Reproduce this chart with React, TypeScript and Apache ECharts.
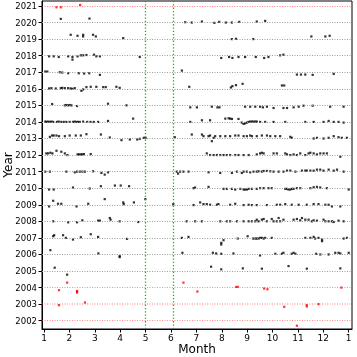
import React, { useEffect, useRef } from "react";
import * as echarts from "echarts";

const xTickValues = [1, 2, 3, 4, 5, 6, 7, 8, 9, 10, 11, 12, 13];
const xTickLabels = ["1", "2", "3", "4", "5", "6", "7", "8", "9", "10", "11", "12", "1"];
const years = [2002, 2003, 2004, 2005, 2006, 2007, 2008, 2009, 2010, 2011, 2012, 2013, 2014, 2015, 2016, 2017, 2018, 2019, 2020, 2021];
const redYears = [2002, 2003, 2004, 2021];
const greenMonths = [5.0, 6.1];

// [month, offset from year line]
const y2021 = [[1.49, -0.08], [1.66, -0.08], [2.42, 0.06]];
const y2020 = [[1.66, 0.22], [2.79, 0.24], [6.56, 0.02], [6.82, 0], [7.22, 0.06], [7.71, -0.02], [7.9, 0.04], [8.16, 0], [8.4, 0], [8.69, 0.04], [9.38, 0.06], [9.71, 0.1]];
const y2019 = [[2.05, 0.26], [2.32, 0.2], [2.54, 0.26], [2.54, 0.16], [2.93, 0.26], [3.04, 0.16], [4.12, 0.06], [8.4, 0], [8.56, 0.02], [9.24, 0], [11.53, 0.16], [12.08, 0.16], [12.25, 0.2]];
const y2018 = [[1.2, -0.04], [1.38, -0.04], [1.58, -0.08], [1.95, -0.04], [2.12, -0.08], [2.12, -0.24], [2.32, -0.04], [2.45, 0.02], [2.54, 0.02], [2.67, 0.04], [2.97, 0.06], [3.06, -0.04], [3.2, -0.04], [4.77, -0.08], [7.98, -0.14], [8.29, -0.08], [8.42, -0.14], [8.66, -0.08], [8.92, -0.08], [9.34, -0.08], [9.67, -0.14], [9.84, -0.08], [10.3, 0.02], [10.43, 0.06]];
const y2017 = [[1.05, 0.04], [1.13, 0.04], [1.62, 0], [1.72, -0.02], [1.95, -0.06], [2.37, -0.06], [2.58, -0.08], [2.78, -0.06], [3.2, -0.16], [6.43, 0.1], [10.96, -0.14], [11.12, -0.14], [11.29, -0.14], [11.58, -0.16], [12.41, -0.1]];
const y2016 = [[1.2, 0.02], [1.29, 0.04], [1.46, 0.02], [1.66, 0.04], [1.72, 0.06], [1.82, 0.04], [1.95, 0.04], [2.05, 0.02], [2.12, 0], [2.21, 0.04], [2.47, -0.12], [2.54, -0.04], [2.67, 0.1], [2.84, 0.12], [3.06, 0.12], [3.33, 0.1], [3.43, 0.1], [3.85, 0.12], [3.98, 0.06], [6.72, 0.12], [8.36, 0.08], [8.42, 0.16], [8.56, 0.22], [8.82, 0.3], [10.37, 0.2], [10.46, 0.2]];
const y2015 = [[1.32, 0.08], [1.82, 0], [1.88, 0.02], [1.95, 0], [2.01, 0.02], [2.08, 0], [2.3, -0.04], [3.52, 0.1], [4.25, 0], [6.76, -0.12], [7.02, -0.12], [7.61, -0.08], [7.83, -0.12], [7.91, -0.12], [8.92, -0.08], [9.12, -0.08], [9.32, -0.08], [9.51, -0.08], [9.62, -0.12], [9.78, -0.08], [10.04, -0.16], [10.43, -0.16], [10.57, -0.16], [10.83, -0.12], [11.03, -0.08], [11.22, -0.02], [11.58, -0.02], [12.27, -0.08], [12.8, -0.08]];
const y2014 = [[1.05, 0.02], [1.09, 0], [1.16, 0.02], [1.23, 0], [1.29, 0.02], [1.36, 0], [1.51, 0], [1.58, 0.02], [1.68, 0], [1.78, 0], [1.88, 0], [2.01, 0], [2.14, 0], [2.21, 0.02], [2.28, 0], [2.34, 0], [2.41, 0], [2.54, 0.02], [2.7, 0], [2.83, 0], [2.96, 0], [3.13, 0], [3.52, 0.06], [4.51, 0.2], [6.76, 0], [7.22, 0.1], [7.54, 0.1], [8.14, 0.2], [8.27, 0.22], [8.33, 0.2], [8.4, 0.18], [8.66, 0.18], [8.79, -0.04], [8.86, -0.12], [8.92, -0.08], [8.99, -0.04], [9.06, 0], [9.12, 0.02], [9.19, 0.02], [9.25, 0.02], [9.32, 0.02], [9.38, 0.02], [9.51, 0], [9.71, 0], [10.04, 0], [10.5, 0], [11.29, 0], [11.62, 0], [12.01, 0], [12.21, 0.06], [12.41, 0], [12.6, 0], [12.8, -0.04]];
const y2013 = [[1.23, 0.1], [1.32, 0.18], [1.38, 0.18], [1.49, 0.18], [1.59, 0.14], [1.82, 0.14], [2.01, 0.18], [2.25, 0.18], [2.45, 0.18], [2.67, 0.26], [3.24, 0.24], [3.59, 0.06], [4.05, -0.1], [4.38, -0.06], [4.67, -0.06], [4.77, -0.02], [4.93, 0.04], [5.0, 0.04], [6.15, 0.08], [6.82, 0.24], [7.22, 0.24], [7.28, 0.14], [7.48, 0.14], [7.54, 0.18], [7.61, -0.16], [7.68, 0.04], [7.74, 0.14], [7.94, 0.14], [8.14, 0.14], [8.33, 0.14], [8.53, 0.18], [8.66, 0.18], [8.86, 0.14], [8.99, 0.14], [9.12, 0.18], [9.19, 0.14], [9.38, 0.14], [9.58, 0.18], [9.78, 0.18], [9.91, 0.14], [10.11, 0.14], [10.3, 0.14], [10.7, 0.1], [10.76, 0.04], [11.62, 0], [11.75, 0.04], [12.01, 0], [12.21, 0.04], [12.41, 0.14], [12.6, 0.08], [12.73, 0.04], [12.93, 0.04]];
const y2012 = [[1.09, 0.1], [1.16, 0.1], [1.25, 0.14], [1.33, 0.1], [1.49, 0.26], [1.68, 0.2], [1.82, 0.1], [1.92, 0], [2.32, 0.04], [2.38, 0.04], [2.45, 0.04], [2.51, 0.04], [2.57, 0.06], [2.84, 0.06], [7.41, 0.1], [7.54, 0], [7.68, 0], [7.81, 0], [7.94, 0], [8.07, 0], [8.2, 0], [8.33, 0], [8.53, 0], [8.66, 0], [8.86, 0], [9.06, 0], [9.38, 0.04], [9.51, 0.1], [9.58, 0.14], [9.65, 0.1], [10.04, 0.1], [10.17, 0.1], [10.5, 0.1], [10.57, 0.04], [10.7, 0], [10.83, 0.04], [10.96, 0], [11.09, 0.1], [11.29, 0], [11.42, 0.1], [11.49, 0.14], [11.62, 0.1], [11.75, 0.04], [11.88, 0.1], [12.01, 0.1], [12.14, 0.1], [12.67, -0.1]];
const y2011 = [[1.05, 0], [1.23, 0], [1.88, 0], [2.21, -0.04], [2.3, 0], [2.41, 0], [2.51, 0], [2.61, 0], [2.93, 0.02], [3.26, -0.08], [3.39, -0.18], [3.52, -0.04], [6.23, 0], [6.28, -0.12], [6.36, 0], [6.49, 0], [6.69, 0], [7.48, -0.04], [7.94, -0.08], [8.4, -0.08], [8.6, 0], [8.79, -0.08], [8.86, 0], [8.99, 0], [9.12, -0.04], [9.25, 0], [9.38, 0], [9.45, 0.02], [9.58, 0], [9.65, 0.04], [9.78, 0.04], [9.91, 0.02], [10.04, 0], [10.24, 0], [10.43, 0], [10.57, 0.06], [10.7, 0.06], [10.9, 0], [11.16, 0.06], [11.29, 0.06], [11.35, 0.06], [11.49, 0.06], [11.62, 0.06], [11.75, 0.12], [11.88, 0.12], [12.01, 0.06], [12.21, 0.12], [12.41, 0.06], [12.54, 0.12], [12.8, 0]];
const y2010 = [[1.2, -0.08], [1.38, -0.08], [2.14, 0.04], [2.8, -0.02], [3.24, 0.12], [3.79, 0.16], [4.02, 0.16], [4.35, 0.12], [6.89, 0], [6.95, 0.04], [7.48, 0.08], [8.07, -0.04], [8.2, -0.04], [8.4, -0.04], [8.53, -0.08], [8.73, -0.04], [8.86, -0.08], [8.92, -0.08], [8.99, -0.08], [9.06, -0.04], [9.19, -0.04], [9.38, -0.04], [9.51, 0], [9.65, 0], [9.84, 0], [9.97, 0], [10.5, -0.04], [10.57, -0.04], [10.63, -0.08], [10.7, -0.08], [10.76, -0.04], [10.83, -0.04], [10.96, 0], [11.09, 0], [11.49, 0], [11.62, 0.06], [11.75, 0.08], [11.88, 0.04], [12.14, 0], [13.0, -0.08]];
const y2009 = [[1.2, -0.1], [1.36, 0.24], [1.55, 0.06], [1.68, 0.06], [2.28, -0.1], [2.74, 0.06], [3.39, 0.34], [4.12, 0.14], [4.14, 0.04], [4.54, 0.14], [4.99, 0.34], [6.09, 0.04], [6.89, -0.02], [7.15, 0.14], [7.28, 0.04], [7.41, 0.04], [7.54, 0], [7.81, 0], [7.87, 0.04], [8.33, 0], [8.53, 0.06], [8.86, -0.02], [9.06, 0], [9.19, -0.02], [9.38, -0.02], [9.78, -0.02], [10.17, 0], [10.3, 0], [10.5, 0.04], [10.76, 0], [11.03, 0], [11.35, 0], [11.62, 0.04], [11.81, 0.04], [12.08, 0], [12.21, 0], [12.34, -0.1], [12.67, -0.1]];
const y2008 = [[1.36, 0], [1.95, -0.06], [2.3, -0.06], [2.51, 0.06], [3.13, 0.04], [3.2, 0.04], [3.59, 0.2], [3.62, 0.1], [3.98, 0], [4.71, -0.04], [6.62, 0], [6.95, 0], [7.22, 0], [7.94, 0], [8.2, 0], [8.33, 0], [8.6, 0], [8.86, 0], [9.06, 0], [9.19, 0], [9.32, 0], [9.38, 0.1], [9.45, 0], [9.58, 0.1], [9.65, 0.14], [9.78, 0], [9.97, 0.14], [10.04, 0], [10.17, 0], [10.24, 0.2], [10.3, 0], [10.43, 0.1], [10.83, 0.1], [10.96, 0.14], [11.09, 0.06], [11.16, 0.2], [11.29, 0.1], [11.42, 0.1], [11.55, 0], [11.62, 0.06], [11.75, 0.04], [12.01, 0.1], [12.08, 0], [12.21, 0], [12.34, 0], [12.41, -0.04], [12.6, 0.04], [12.8, 0]];
const y2007 = [[1.36, 0.1], [1.4, 0.16], [1.75, 0.16], [1.86, 0], [2.14, -0.1], [2.45, 0.04], [2.84, 0.22], [3.13, 0.06], [4.27, -0.06], [6.43, 0], [6.69, 0.06], [7.98, -0.3], [7.98, -0.4], [8.07, -0.14], [8.63, -0.04], [9.02, 0.1], [9.23, -0.04], [9.32, -0.04], [9.38, -0.04], [9.45, -0.04], [9.51, 0], [9.58, 0], [9.65, -0.04], [9.71, 0], [9.97, 0], [11.29, 0], [11.49, 0], [11.62, 0.06], [11.68, -0.04], [11.81, 0], [11.95, -0.1], [11.95, -0.2], [12.8, -0.04], [12.93, 0]];
const y2006 = [[1.25, 0.26], [3.14, 0.06], [3.98, -0.1], [3.98, -0.16], [6.45, 0.1], [7.65, 0.1], [7.78, 0.06], [7.98, 0.04], [8.46, 0.06], [9.51, -0.06], [10.11, 0.04], [10.37, 0.04], [10.43, 0.1], [10.76, 0.04], [10.83, 0.1], [10.9, 0.04], [11.72, 0.04], [11.88, 0], [12.21, 0], [12.47, 0.1], [12.6, 0.1], [12.67, 0.06], [13.0, 0.1]];
const y2005 = [[1.42, 0.2], [1.91, -0.22], [7.58, 0.26], [7.98, 0.1], [8.83, 0.16], [9.58, 0.14], [10.63, 0.3], [11.35, 0.14], [12.67, 0.16]];
const y2004 = [[1.91, 0.3], [1.59, -0.16], [2.3, -0.2], [2.3, -0.25], [2.3, -0.3], [6.49, 0.3], [7.04, -0.24], [8.57, 0.04], [8.63, 0.04], [9.67, -0.06], [9.8, -0.1], [12.71, 0]];
const y2003 = [[1.59, -0.06], [2.61, 0.1], [10.46, -0.16], [11.35, -0.06], [11.35, -0.14], [11.81, 0]];
const y2002 = [[10.96, -0.3]];

const blackSets: [number, number[][]][] = [
  [2020, y2020], [2019, y2019], [2018, y2018], [2017, y2017], [2016, y2016], [2015, y2015],
  [2014, y2014], [2013, y2013], [2012, y2012], [2011, y2011], [2010, y2010], [2009, y2009],
  [2008, y2008], [2007, y2007], [2006, y2006], [2005, y2005],
];
const redSets: [number, number[][]][] = [[2021, y2021], [2004, y2004], [2003, y2003], [2002, y2002]];

const toPts = (sets: [number, number[][]][]) =>
  sets.flatMap(([yr, arr]) => arr.map(([m, o]) => [m, yr + o]));

export default function App() {
  const ref = useRef<HTMLDivElement>(null);
  useEffect(() => {
    if (!ref.current) return;
    const chart = echarts.init(ref.current, null, { renderer: "svg" });
    const font = "DejaVu Sans";
    const hLines = years.map((y) => ({
      yAxis: y,
      lineStyle: redYears.includes(y)
        ? { color: y === 2003 ? "rgba(255,60,60,0.35)" : "rgba(255,60,60,0.6)", type: [1, 1.5], width: y === 2003 ? 2 : 1 }
        : { color: "#9a9a9a", type: [1, 1.5], width: 1 },
    }));
    const vLines = greenMonths.map((m) => ({
      xAxis: m,
      lineStyle: { color: "#2ca02c", type: [1.3, 2], width: 1.3 },
    }));
    chart.setOption({
      animation: false,
      grid: { left: 42, right: 5, top: 1, bottom: 28, show: true, borderColor: "#000", borderWidth: 1, backgroundColor: "transparent", outerBoundsMode: "none", containLabel: false },
      xAxis: {
        type: "value", min: 0.92, max: 13.13,
        axisLine: { show: true, lineStyle: { color: "#000" } },
        axisTick: { show: true, length: 3.5, customValues: xTickValues, lineStyle: { color: "#000" } },
        axisLabel: {
          customValues: xTickValues, margin: 4, fontSize: 9, color: "#000", fontFamily: font,
          formatter: (v: number) => xTickLabels[xTickValues.indexOf(Math.round(v))] ?? "",
        },
        splitLine: { show: false },
        name: "Month", nameLocation: "middle", nameGap: 13, nameMoveOverlap: false,
        nameTextStyle: { fontSize: 12, color: "#000", fontFamily: font, lineHeight: 13 },
      },
      yAxis: {
        type: "value", min: 2001.5, max: 2021.3,
        axisLine: { show: true, lineStyle: { color: "#000" } },
        axisTick: { show: true, length: 3.5, customValues: years, lineStyle: { color: "#000" } },
        axisLabel: { customValues: years, margin: 5, fontSize: 8.5, color: "#000", fontFamily: font, formatter: (v: number) => String(Math.round(v)) },
        splitLine: { show: false },
        name: "Year", nameLocation: "middle", nameGap: 28, nameMoveOverlap: false,
        nameTextStyle: { fontSize: 12, color: "#000", fontFamily: font, lineHeight: 13 },
      },
      series: [
        {
          type: "scatter", data: [], z: 1, silent: true,
          markLine: { silent: true, symbol: "none", label: { show: false }, data: [...hLines, ...vLines] },
        },
        { type: "scatter", z: 3, symbol: "rect", symbolSize: 2.2, itemStyle: { color: "#000" }, data: toPts(blackSets) },
        { type: "scatter", z: 3, symbol: "rect", symbolSize: 2.2, itemStyle: { color: "#ff0000" }, data: toPts(redSets) },
      ],
    });
    return () => chart.dispose();
  }, []);
  return <div ref={ref} style={{ position: "fixed", left: 0, top: 0, width: 357, height: 357 }} />;
}
